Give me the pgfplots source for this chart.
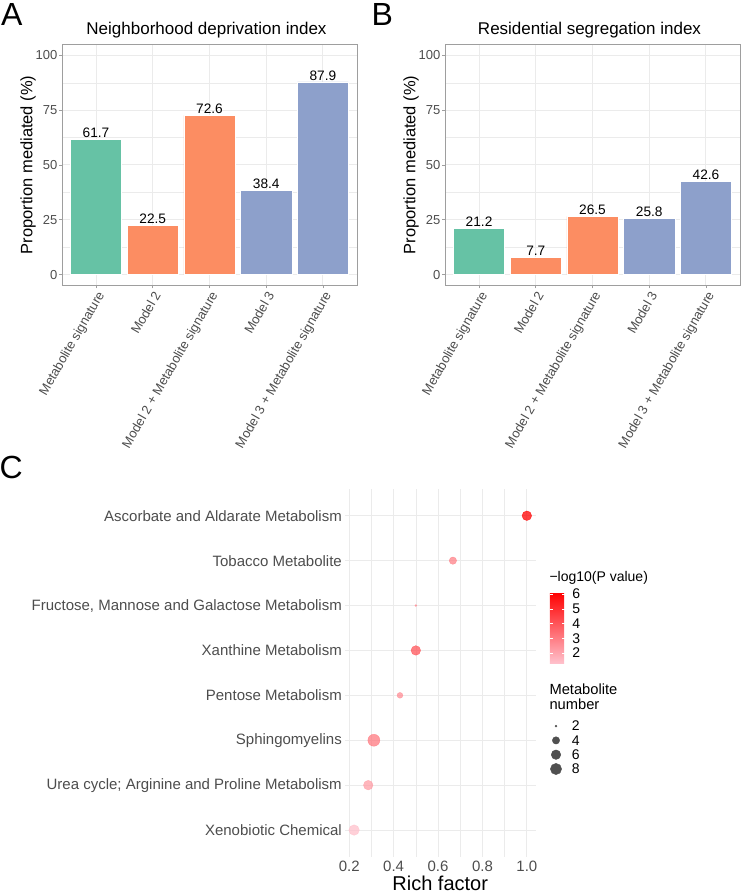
\documentclass[border=0pt]{standalone}
\usepackage{fontspec}
\setmainfont{Liberation Sans}
\usepackage{pgfplots}
\pgfplotsset{compat=1.18}
\definecolor{sgreen}{HTML}{66C2A5}
\definecolor{sorange}{HTML}{FC8D62}
\definecolor{sblue}{HTML}{8DA0CB}
\definecolor{gridc}{HTML}{EBEBEB}
\definecolor{borderc}{HTML}{9E9E9E}
\definecolor{txtc}{HTML}{4D4D4D}
\definecolor{legc}{HTML}{505050}
\newcommand{\fs}[1]{\fontsize{#1pt}{#1pt}\selectfont}
\pgfplotsset{
 barpanel/.style={
  scale only axis, width=295pt, height=241pt,
  xmin=0.4, xmax=5.6, ymin=-5, ymax=105,
  xtick={1,2,3,4,5},
  xticklabels={Metabolite signature, Model 2, Model 2 + Metabolite signature, Model 3, Model 3 + Metabolite signature},
  ytick={0,25,50,75,100},
  minor ytick={12.5,37.5,62.5,87.5},
  xmajorgrids, ymajorgrids, yminorgrids,
  major grid style={draw=gridc, line width=1pt},
  minor grid style={draw=gridc, line width=0.5pt},
  axis line style={draw=borderc, line width=0.8pt},
  tick align=outside, major tick length=3pt, minor tick length=0pt,
  xtick pos=left, ytick pos=left,
  major tick style={draw=borderc, line width=0.8pt},
  ticklabel style={font=\fs{13}, text=txtc},
  xticklabel style={rotate=60, anchor=north east, inner sep=1pt},
  yticklabel style={inner sep=1.5pt},
  /pgf/number format/assume math mode=true,
  ylabel={Proportion mediated (\%)},
  ylabel style={font=\fs{16.5}, text=black, at={(axis description cs:-0.115,0.5)}, anchor=center},
  title style={font=\fs{17}, at={(axis description cs:0.5,1)}, anchor=base, yshift=4pt, xshift=-3pt},
  nodes near coords,
  nodes near coords style={font=\fs{13.7}, text=black, anchor=south, inner sep=1.5pt},
 },
 bars/.style={ybar, bar width=0.9, bar shift=0pt, draw=white, line width=0.5pt, fill=#1},
}
\begin{document}
\begin{tikzpicture}
\useasboundingbox (0pt,0pt) rectangle (741pt,894pt);
\node[anchor=base west, inner sep=0pt, font=\fs{32}] at (1pt,868pt) {A};
\node[anchor=base west, inner sep=0pt, font=\fs{32}] at (371.5pt,868pt) {B};
\node[anchor=base west, inner sep=0pt, font=\fs{32}] at (-0.5pt,415pt) {C};
\begin{scope}
\clip (0pt,446pt) rectangle (741pt,894pt);
\begin{axis}[barpanel, at={(62pt,608.5pt)}, anchor=south west, title={Neighborhood deprivation index}]
\addplot[bars=sgreen] coordinates {(1,61.7)};
\addplot[bars=sorange] coordinates {(2,22.5) (3,72.6)};
\addplot[bars=sblue] coordinates {(4,38.4) (5,87.9)};
\end{axis}
\begin{axis}[barpanel, at={(445pt,608.5pt)}, anchor=south west, title={Residential segregation index}]
\addplot[bars=sgreen] coordinates {(1,21.2)};
\addplot[bars=sorange] coordinates {(2,7.7) (3,26.5)};
\addplot[bars=sblue] coordinates {(4,25.8) (5,42.6)};
\end{axis}
\end{scope}
% Panel C
\begin{axis}[at={(345pt,37pt)}, anchor=south west, scale only axis, width=190.5pt, height=368.2pt,
  xmin=0.181, xmax=1.039, ymin=0.4, ymax=8.6,
  xtick={0.2,0.4,0.6,0.8,1.0}, xticklabels={0.2,0.4,0.6,0.8,1.0},
  minor xtick={0.3,0.5,0.7,0.9},
  ytick={1,2,3,4,5,6,7,8},
  yticklabels={{Xenobiotic Chemical},{Urea cycle; Arginine and Proline Metabolism},{Sphingomyelins},{Pentose Metabolism},{Xanthine Metabolism},{Fructose, Mannose and Galactose Metabolism},{Tobacco Metabolite},{Ascorbate and Aldarate Metabolism}},
  axis line style={draw=none}, major tick length=0pt, minor tick length=0pt,
  xmajorgrids, xminorgrids, ymajorgrids,
  major grid style={draw=gridc, line width=1pt},
  minor grid style={draw=gridc, line width=0.5pt},
  ticklabel style={font=\fs{15}, text=txtc},
  xticklabel style={anchor=north, inner sep=0pt, yshift=-4.3pt},
  yticklabel style={anchor=east, inner sep=0pt, xshift=-3pt},
  xlabel={Rich factor},
  xlabel style={font=\fs{20}, at={(axis description cs:0.5,0)}, anchor=base, yshift=-34pt},
  colormap={pinkred}{rgb255=(255,192,203) rgb255=(255,0,0)},
  point meta min=1.32, point meta max=6.14,
  colorbar,
  colorbar style={scale only axis, width=14.7pt, height=71pt,
    at={(parent axis.north east)}, anchor=north west, xshift=5.8pt, yshift=-103.2pt,
    ytick={2,3,4,5,6}, axis line style={draw=none},
    tick align=inside, major tick length=2.9pt,
    major tick style={draw=white, line width=0.5pt},
    yticklabel style={font=\fs{14}, text=black, anchor=west, inner sep=0pt, xshift=7.7pt},
    /pgf/number format/assume math mode=true},
  /pgf/number format/assume math mode=true,
  clip=false,
]
\addplot[scatter, only marks, mark=*, scatter src=explicit,
  visualization depends on={1+5*sqrt((\thisrow{n}-2)/7) \as \rad},
  scatter/use mapped color={draw=mapped color, fill=mapped color, opacity=0.75},
  scatter/@pre marker code/.append style={/tikz/mark size=\rad}]
  table[row sep=\\, x=x, y=y, meta=p]{
  x y n p\\
  1.0 8 6 6.14\\
  0.667 7 4 2.9\\
  0.5 6 2 2.6\\
  0.5 5 6 4.0\\
  0.4286 4 3 2.6\\
  0.311 3 9 3.1\\
  0.2857 2 6 2.2\\
  0.222 1 7 1.32\\
  };
\end{axis}
% legend titles
\node[anchor=base west, inner sep=0pt, font=\fs{14}] at (549.3pt,312.4pt) {−log10(P value)};
\node[anchor=base west, inner sep=0pt, font=\fs{14.7}] at (549.3pt,199.6pt) {Metabolite};
\node[anchor=base west, inner sep=0pt, font=\fs{14.7}] at (549.3pt,184pt) {number};
% size legend
\begin{axis}[at={(551pt,117.85pt)}, anchor=south west, scale only axis, width=10pt, height=57.2pt,
  xmin=0, xmax=1, ymin=1, ymax=9, hide axis, clip=false,
  /pgf/number format/assume math mode=true]
\addplot[scatter, only marks, mark=*, scatter src=explicit,
  visualization depends on={1+5*sqrt((\thisrow{n}-2)/7) \as \rad},
  scatter/use mapped color={draw=legc, fill=legc},
  scatter/@pre marker code/.append style={/tikz/mark size=\rad}]
  table[row sep=\\, x=x, y=y, meta=n]{
  x y n\\
  0.5 8 2\\
  0.5 6 4\\
  0.5 4 6\\
  0.5 2 8\\
  };
\addplot[only marks, mark=none, point meta=explicit,
  nodes near coords,
  nodes near coords style={anchor=west, inner sep=0pt, xshift=15.7pt, font=\fs{14}, text=black}]
  table[row sep=\\, x=x, y=y, meta=n]{
  x y n\\
  0.5 8 2\\
  0.5 6 4\\
  0.5 4 6\\
  0.5 2 8\\
  };
\end{axis}
\end{tikzpicture}
\end{document}
